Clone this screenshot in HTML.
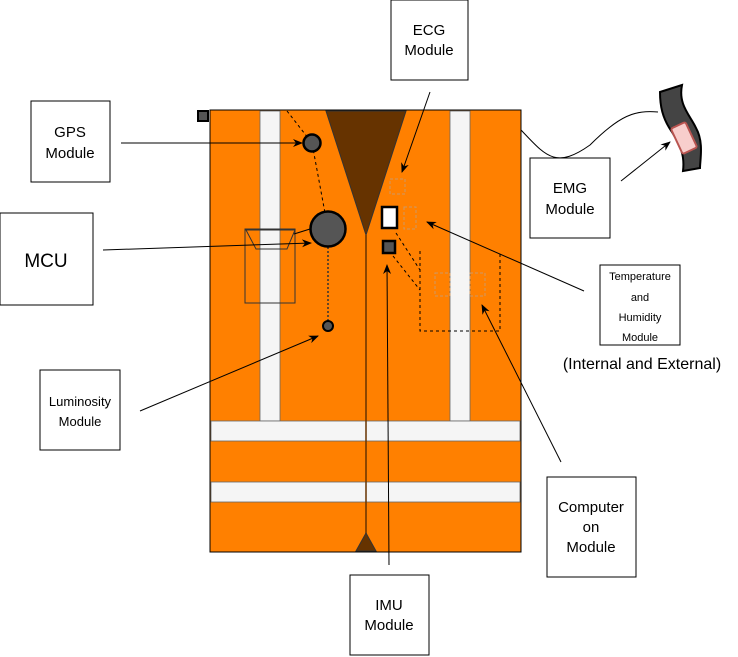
<html><body style="margin:0;background:#fff">
<svg width="738" height="657" viewBox="0 0 738 657" xmlns="http://www.w3.org/2000/svg" font-family="Liberation Sans, sans-serif">
<defs><marker id="a" markerWidth="10" markerHeight="10" refX="9" refY="5" orient="auto" markerUnits="userSpaceOnUse"><path d="M0,1 L10,5 L0,9 L3,5z" fill="#000"/></marker></defs>
<rect x="210" y="110" width="311" height="442" fill="#FF8000" stroke="#000"/>
<rect x="260" y="111" width="20" height="310" fill="#f5f5f5" stroke="#666" stroke-width="0.8"/>
<rect x="450" y="111" width="20" height="310" fill="#f5f5f5" stroke="#666" stroke-width="0.8"/>
<rect x="211" y="421" width="309" height="20" fill="#f5f5f5" stroke="#666" stroke-width="0.8"/>
<rect x="211" y="482" width="309" height="20" fill="#f5f5f5" stroke="#666" stroke-width="0.8"/>
<polygon points="326,111 406,111 366,235" fill="#663300" stroke="#333"/>
<line x1="366" y1="235" x2="366" y2="540" stroke="#663300" stroke-width="1.5"/>
<polygon points="356,551 376,551 366,533" fill="#663300" stroke="#333"/>
<rect x="198" y="111" width="10" height="10" fill="#555" stroke="#000" stroke-width="2"/>
<rect x="245" y="229" width="50" height="74" fill="none" stroke="#333"/>
<polygon points="246,230 295,230 287,249 256,249" fill="none" stroke="#333"/>
<path d="M287,111 L312,143 L328,229" fill="none" stroke="#000" stroke-dasharray="3,3"/>
<line x1="328" y1="247" x2="328" y2="322" stroke="#333" stroke-width="1.5" stroke-dasharray="2,2"/>
<line x1="294" y1="234" x2="310" y2="229" stroke="#000"/>
<circle cx="312" cy="143" r="8.5" fill="#555" stroke="#000" stroke-width="2.5"/>
<circle cx="328" cy="229" r="17.5" fill="#555" stroke="#000" stroke-width="2.5"/>
<circle cx="328" cy="326" r="5" fill="#555" stroke="#000" stroke-width="2"/>
<rect x="382" y="207" width="15" height="21" fill="#fff" stroke="#000" stroke-width="2.5"/>
<rect x="383" y="241" width="12" height="12" fill="#555" stroke="#000" stroke-width="2.5"/>
<g fill="none" stroke="#c96" stroke-dasharray="3,2"><rect x="390" y="179" width="15" height="15"/><rect x="404" y="207" width="12" height="22"/><rect x="435" y="273" width="15" height="23"/><rect x="470" y="273" width="15" height="23"/></g>
<g fill="none" stroke="#000" stroke-dasharray="3,3"><path d="M420,251 V331 H500 V251"/><line x1="396" y1="233" x2="420" y2="270"/><line x1="393" y1="256" x2="420" y2="290"/></g>
<path d="M521,130 C545,155 555,170 590,145 C620,115 635,110 658,112" fill="none" stroke="#000"/>
<path d="M660,92 L682,85 C678,105 690,115 696,128 C704,142 700,160 700,168 L683,171 C685,155 680,145 672,132 C662,118 660,105 660,92z" fill="#444" stroke="#000" stroke-width="2"/>
<rect x="676" y="124" width="16" height="28" rx="2" fill="#f8cecc" stroke="#b85450" stroke-width="2" transform="rotate(-25 684 138)"/>
<g fill="#fff" stroke="#000"><rect x="391" y="0" width="77" height="80"/><rect x="31" y="101" width="79" height="81"/><rect x="0" y="213" width="93" height="92"/><rect x="530" y="158" width="80" height="80"/><rect x="600" y="265" width="80" height="80"/><rect x="40" y="370" width="80" height="80"/><rect x="547" y="477" width="89" height="100"/><rect x="350" y="575" width="79" height="80"/></g>
<g stroke="#000" marker-end="url(#a)"><line x1="121" y1="143" x2="302" y2="143"/><line x1="103" y1="250" x2="311" y2="243"/><line x1="140" y1="411" x2="318" y2="336"/><line x1="430" y1="92" x2="402" y2="172"/><line x1="584" y1="291" x2="427" y2="222"/><line x1="561" y1="462" x2="482" y2="305"/><line x1="389" y1="565" x2="387" y2="265"/><line x1="621" y1="181" x2="670" y2="142"/></g>
<g font-size="15" text-anchor="middle" fill="#000">
<text x="429" y="35">ECG</text><text x="429" y="55">Module</text>
<text x="70" y="137">GPS</text><text x="70" y="158">Module</text>
<text x="46" y="267" font-size="19">MCU</text>
<text x="570" y="193">EMG</text><text x="570" y="214">Module</text>
<text x="80" y="406" font-size="13">Luminosity</text><text x="80" y="426" font-size="13">Module</text>
<text x="591" y="512">Computer</text><text x="591" y="532">on</text><text x="591" y="552">Module</text>
<text x="389" y="610">IMU</text><text x="389" y="630">Module</text>
<g font-size="11"><text x="640" y="280">Temperature</text><text x="640" y="301">and</text><text x="640" y="321">Humidity</text><text x="640" y="341">Module</text></g>
<text x="642" y="369" font-size="16">(Internal and External)</text>
</g>
</svg>
</body></html>
